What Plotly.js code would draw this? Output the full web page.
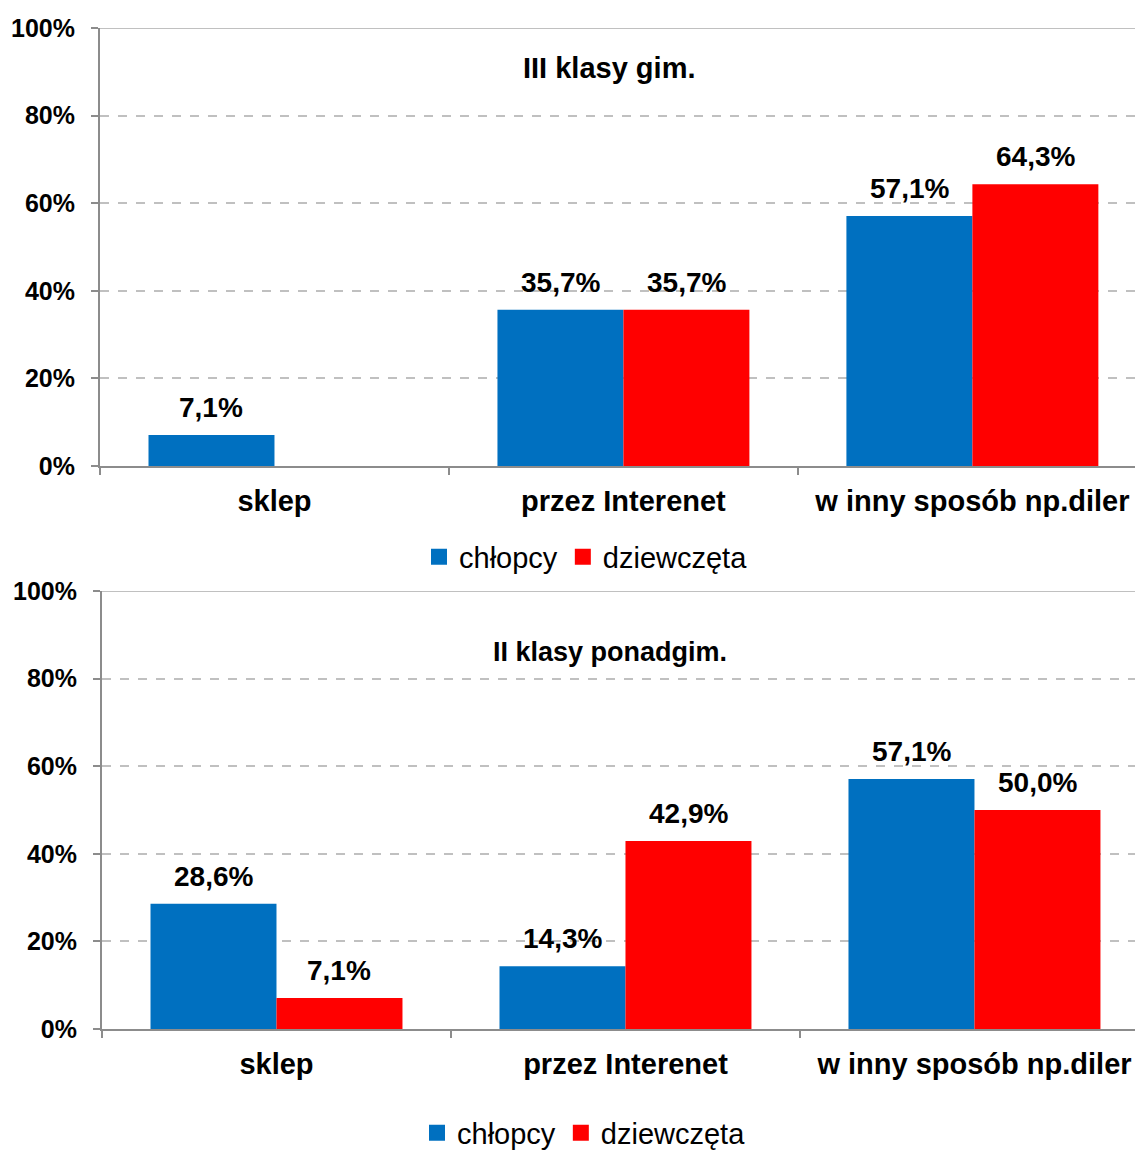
<!DOCTYPE html>
<html>
<head>
<meta charset="utf-8">
<script src="https://cdn.plot.ly/plotly-3.0.1.min.js"></script>
<style>html,body{margin:0;padding:0;background:#fff;}#chart{width:1135px;height:1151px;}</style>
</head>
<body>
<div id="chart"></div>
<script>
const categories = ["sklep", "przez Interenet", "w inny sposób np.diler"];
const seriesNames = ["chłopcy", "dziewczęta"];
const gimBoys = [7.1, 35.7, 57.1];
const gimGirls = [0, 35.7, 64.3];
const ponBoys = [28.6, 14.3, 57.1];
const ponGirls = [7.1, 42.9, 50.0];
const titles = ["III klasy gim.", "II klasy ponadgim."];
const yTicks = [0, 20, 40, 60, 80, 100];
const yTickLabels = ["0%", "20%", "40%", "60%", "80%", "100%"];

const BLUE = "#0070C0", RED = "#FF0000";
const FONT = "Liberation Sans, Arial, sans-serif";
const fmt = v => v > 0 ? v.toFixed(1).replace(".", ",") + "%" : "";

function bar(name, y, color, xa, ya) {
  return {type: "bar", name: name, x: categories, y: y, xaxis: xa, yaxis: ya,
    marker: {color: color}, showlegend: false, hoverinfo: "none"};
}
// legend-only entries (square swatches)
function key(name, color, xa, ya, legend) {
  return {type: "scatter", mode: "markers", name: name, x: [null], y: [null], xaxis: xa, yaxis: ya,
    marker: {color: color, symbol: "square", size: 16}, legend: legend, showlegend: true, hoverinfo: "none"};
}

const data = [
  bar(seriesNames[0], gimBoys, BLUE, "x", "y"),
  bar(seriesNames[1], gimGirls, RED, "x", "y"),
  bar(seriesNames[0], ponBoys, BLUE, "x2", "y2"),
  bar(seriesNames[1], ponGirls, RED, "x2", "y2"),
  key(seriesNames[0], BLUE, "x", "y", "legend"),
  key(seriesNames[1], RED, "x", "y", "legend"),
  key(seriesNames[0], BLUE, "x2", "y2", "legend2"),
  key(seriesNames[1], RED, "x2", "y2", "legend2")
];

const annotations = [];
function labels(vals, xa, ya, shift) {
  vals.forEach((v, i) => {
    const t = fmt(v);
    if (!t) return;
    annotations.push({x: categories[i], y: v, xref: xa, yref: ya, text: t,
      showarrow: false, xanchor: "center", yanchor: "bottom", xshift: shift, yshift: 10,
      font: {family: FONT, size: 28, color: "#000", weight: "bold"}});
  });
}
labels(gimBoys, "x", "y", -63);
labels(gimGirls, "x", "y", 63);
labels(ponBoys, "x2", "y2", -63);
labels(ponGirls, "x2", "y2", 63);

annotations.push({text: titles[0], xref: "paper", yref: "paper", x: 0.4918, y: 1 - 68/1151,
  xanchor: "center", yanchor: "middle", showarrow: false,
  font: {family: FONT, size: 29, color: "#000", weight: "bold"}});
annotations.push({text: titles[1], xref: "paper", yref: "paper", x: 0.4928, y: 1 - 652/1151,
  xanchor: "center", yanchor: "middle", showarrow: false,
  font: {family: FONT, size: 27, color: "#000", weight: "bold"}});

function xaxis(domain, range, anchor) {
  return {domain: domain, range: range, anchor: anchor, type: "category", automargin: false,
    showline: true, linecolor: "#8c8c8c", linewidth: 2,
    ticks: "outside", tickson: "boundaries", ticklen: 7, tickcolor: "#8c8c8c", tickwidth: 2,
    showgrid: false, zeroline: false, ticklabelstandoff: 8,
    tickfont: {family: FONT, size: 29, color: "#000", weight: "bold"}};
}
function yaxis(domain, anchor) {
  return {domain: domain, range: [0, 100], anchor: anchor, automargin: false,
    tickmode: "array", tickvals: yTicks, ticktext: yTickLabels,
    showline: true, linecolor: "#8c8c8c", linewidth: 2,
    ticks: "outside", ticklen: 7, tickcolor: "#8c8c8c", tickwidth: 2,
    showgrid: true, gridcolor: "#c0c0c0", gridwidth: 2, griddash: "dash",
    zeroline: false, ticklabelstandoff: 11,
    tickfont: {family: FONT, size: 25, color: "#000", weight: "bold"}};
}

const legendBase = {orientation: "h", xref: "paper", yref: "paper",
  xanchor: "center", yanchor: "middle", font: {family: FONT, size: 29, color: "#000"},
  itemwidth: 30, tracegroupgap: 0, bgcolor: "rgba(0,0,0,0)"};

const layout = {
  width: 1135, height: 1151,
  margin: {l: 100, r: 0, t: 0, b: 0, autoexpand: false},
  paper_bgcolor: "#fff", plot_bgcolor: "#fff",
  barmode: "group", bargap: 0.278, bargroupgap: 0,
  font: {family: FONT, color: "#000"},
  xaxis: xaxis([0, 1], [-0.5, 2.466], "y"),
  yaxis: yaxis([1 - 466/1151, 1 - 28/1151], "x"),
  xaxis2: xaxis([2/1035, 1], [-0.5, 2.460], "y2"),
  yaxis2: yaxis([1 - 1029/1151, 1 - 591/1151], "x2"),
  legend: Object.assign({}, legendBase, {x: (586 - 100)/1035, y: 1 - 557/1151}),
  legend2: Object.assign({}, legendBase, {x: (584 - 100)/1035, y: 1 - 1133/1151}),
  shapes: [
    {type: "line", xref: "x domain", yref: "y", x0: 0, x1: 1, y0: 100, y1: 100, line: {color: "#c0c0c0", width: 2}},
    {type: "line", xref: "x2 domain", yref: "y2", x0: 0, x1: 1, y0: 100, y1: 100, line: {color: "#c0c0c0", width: 2}}
  ],
  annotations: annotations
};

Plotly.newPlot("chart", data, layout, {displayModeBar: false, staticPlot: true});
</script>
</body>
</html>
